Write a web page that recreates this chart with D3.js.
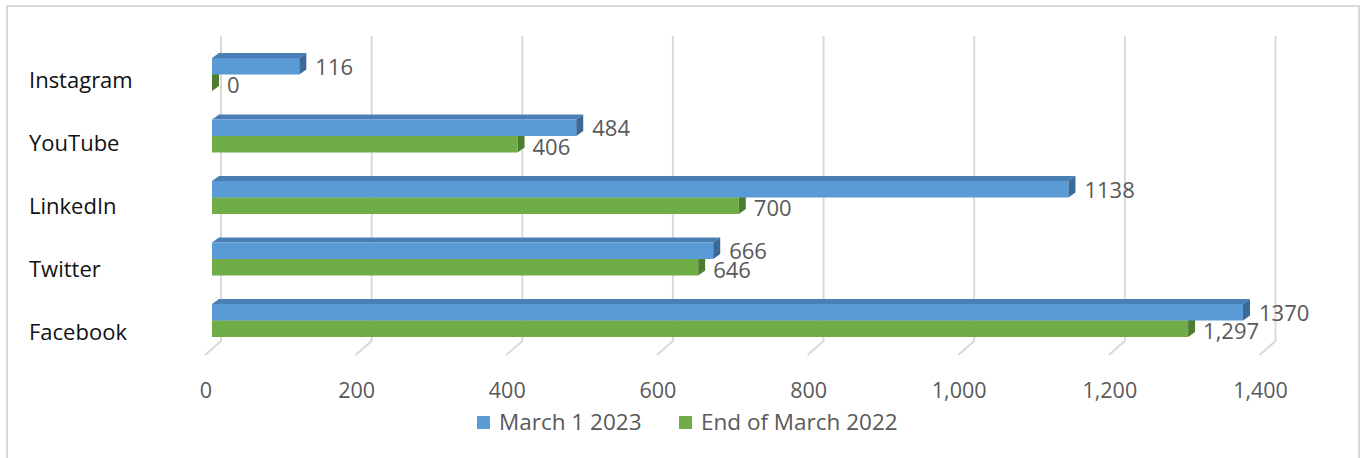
<!DOCTYPE html>
<html><head><meta charset="utf-8">
<script src="https://cdn.jsdelivr.net/npm/d3@7"></script>
<style>body{margin:0;background:#fff}svg{display:block}text{font-family:"Open Sans",sans-serif}</style>
</head><body><svg id="c" width="1361" height="458"></svg>
<script>
const categories = ["Instagram","YouTube","LinkedIn","Twitter","Facebook"];
const march2023 = [116,484,1138,666,1370];
const march2022 = [0,406,700,646,1297];
const seriesNames = ["March 1 2023","End of March 2022"];
const tickValues = [0,200,400,600,800,1000,1200,1400];

const svg = d3.select("#c");
svg.append("rect").attr("x",7).attr("y",6).attr("width",1352).attr("height",460)
  .attr("fill","#fff").attr("stroke","#d9d9d9").attr("stroke-width",2);

const xF = d3.scaleLinear().domain([0,1400]).range([212,1265.6]);
const xB = d3.scaleLinear().domain([0,1400]).range([221,1275.5]);
const y = d3.scaleBand().domain(categories).range([58,337]).paddingInner(0.4634).paddingOuter(0);
const yLab = d3.scalePoint().domain(categories).range([80,332]);
const bh = y.bandwidth()/2;
const dx = 7, dy = 5;

// gridlines
const g = svg.append("g");
tickValues.forEach(v=>{
  const xb = xB(v);
  g.append("path").attr("d",`M${xb},36L${xb},341L${xb-16},355`)
   .attr("fill","none").attr("stroke","#d9d9d9").attr("stroke-width",2);
});
// tick labels
svg.append("g").selectAll("text").data(tickValues).join("text")
  .attr("x",d=>xB(d)-15).attr("y",390).attr("dy","0.35em").attr("text-anchor","middle")
  .attr("font-size",21.5).attr("fill","#595959").text(d3.format(","));

// category labels
svg.append("g").selectAll("text").data(categories).join("text")
  .attr("x",29).attr("y",d=>yLab(d)).attr("dy","0.35em")
  .attr("font-size",22).attr("fill","#111").text(d=>d);

const series = [
  {vals:march2022, off:1, front:"#70ad47", top:"#5f9a3a", side:"#4e7d30", fmt:d3.format(",")},
  {vals:march2023, off:0, front:"#5b9bd5", top:"#4a7fb5", side:"#3b6a98", fmt:d=>String(d)}
];
const bars = svg.append("g");
series.forEach(s=>{
  categories.forEach((c,i)=>{
    const v = s.vals[i];
    const x0 = xF(0), x1 = xF(v);
    const t = y(c) + s.off*bh, b = t + bh;
    bars.append("path").attr("d",`M${x0},${t}L${x0+dx},${t-dy}L${x1+dx},${t-dy}L${x1},${t}Z`).attr("fill",s.top);
    bars.append("rect").attr("x",x0).attr("y",t).attr("width",Math.max(0,x1-x0)).attr("height",bh).attr("fill",s.front);
    bars.append("path").attr("d",`M${x1},${t}L${x1+dx},${t-dy}L${x1+dx},${b-dy}L${x1},${b}Z`).attr("fill",s.side);
  });
});
// value labels
series.forEach(s=>{
  svg.append("g").selectAll("text").data(categories).join("text")
    .attr("x",(c,i)=>xF(s.vals[i])+ (s.off?15:16))
    .attr("y",(c,i)=>y(c)+s.off*bh+bh/2+(s.off?3:1)).attr("dy","0.35em")
    .attr("font-size",22).attr("fill","#595959")
    .text((c,i)=>s.fmt(s.vals[i]));
});

// legend
const leg = svg.append("g");
[{x:477,name:seriesNames[0],col:"#5b9bd5"},{x:679,name:seriesNames[1],col:"#70ad47"}].forEach(l=>{
  leg.append("rect").attr("x",l.x).attr("y",416).attr("width",13).attr("height",13).attr("fill",l.col);
  leg.append("text").attr("x",l.x+22).attr("y",422.5).attr("dy","0.35em").attr("font-size",22.5).attr("fill","#595959").text(l.name);
});
</script></body></html>
